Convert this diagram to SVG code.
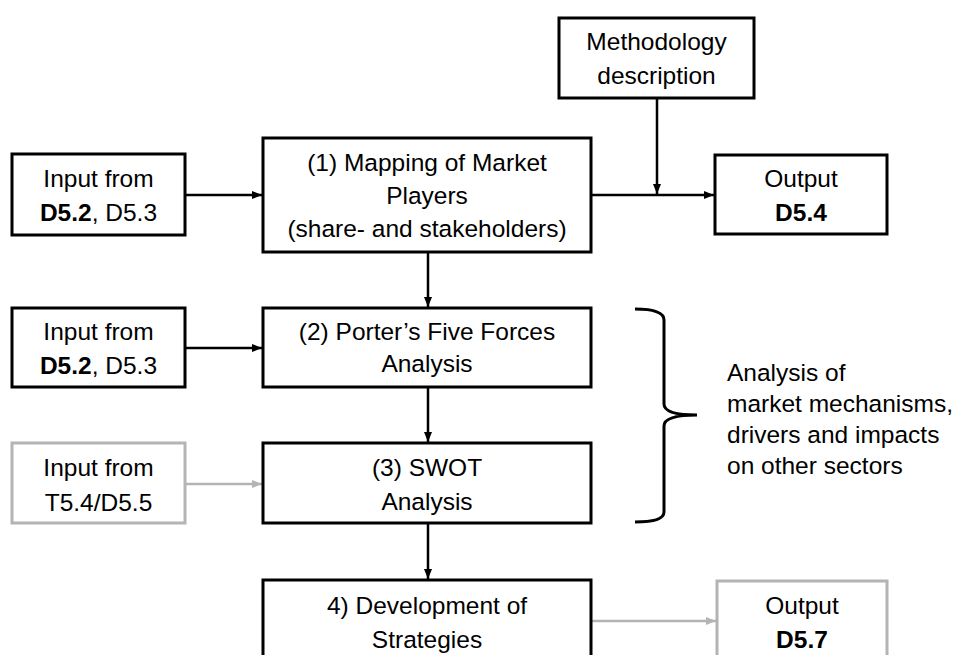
<svg xmlns="http://www.w3.org/2000/svg" width="964" height="655" viewBox="0 0 964 655">
  <defs>
    <marker id="arrow-black" viewBox="0 0 10 10" refX="10" refY="5" markerWidth="10" markerHeight="10" markerUnits="userSpaceOnUse" orient="auto">
      <path d="M0,1 L10,5 L0,9 Z" fill="#000"/>
    </marker>
    <marker id="arrow-grey" viewBox="0 0 10 10" refX="10" refY="5" markerWidth="10" markerHeight="10" markerUnits="userSpaceOnUse" orient="auto">
      <path d="M0,1 L10,5 L0,9 Z" fill="#b4b4b4"/>
    </marker>
    <style>
      .box { fill: #fff; stroke: #000; stroke-width: 3; }
      .box-grey { fill: #fff; stroke: #b4b4b4; stroke-width: 3; }
      .lbl { font-family: "Liberation Sans", Arial, sans-serif; font-size: 24.5px; fill: #000; text-anchor: middle; }
      .note { font-family: "Liberation Sans", Arial, sans-serif; font-size: 24.5px; fill: #000; }
      .b { font-weight: bold; }
      .edge { fill: none; stroke: #000; stroke-width: 2.5; marker-end: url(#arrow-black); }
      .edge-grey { fill: none; stroke: #b4b4b4; stroke-width: 2.5; marker-end: url(#arrow-grey); }
    </style>
  </defs>
  <rect width="964" height="655" fill="#fff"/>

  <!-- connectors -->
  <g id="connectors">
    <line class="edge" x1="185" y1="195" x2="262" y2="195"/>
    <line class="edge" x1="591" y1="195" x2="714" y2="195"/>
    <line class="edge" x1="657" y1="98" x2="657" y2="194"/>
    <line class="edge" x1="428" y1="252" x2="428" y2="307"/>
    <line class="edge" x1="185" y1="348" x2="262" y2="348"/>
    <line class="edge" x1="428" y1="387" x2="428" y2="442"/>
    <line class="edge-grey" x1="185" y1="484" x2="262" y2="484"/>
    <line class="edge" x1="428" y1="523" x2="428" y2="579"/>
    <line class="edge-grey" x1="591" y1="621" x2="716" y2="621"/>
  </g>

  <g id="input-1">
    <rect class="box" x="12" y="154" width="173" height="81"/>
    <text class="lbl" x="98.5" y="187">Input from</text>
    <text class="lbl" x="98.5" y="221"><tspan class="b">D5.2</tspan>, D5.3</text>
  </g>

  <g id="mapping">
    <rect class="box" x="263" y="138" width="328" height="114"/>
    <text class="lbl" x="427" y="171">(1) Mapping of Market</text>
    <text class="lbl" x="427" y="204">Players</text>
    <text class="lbl" x="427" y="237">(share- and stakeholders)</text>
  </g>

  <g id="methodology">
    <rect class="box" x="559" y="18" width="195" height="80"/>
    <text class="lbl" x="656.5" y="50">Methodology</text>
    <text class="lbl" x="656.5" y="84">description</text>
  </g>

  <g id="output-d54">
    <rect class="box" x="715" y="155" width="172" height="79"/>
    <text class="lbl" x="801" y="187">Output</text>
    <text class="lbl b" x="801" y="221">D5.4</text>
  </g>

  <g id="input-2">
    <rect class="box" x="12" y="308" width="173" height="79"/>
    <text class="lbl" x="98.5" y="340">Input from</text>
    <text class="lbl" x="98.5" y="374"><tspan class="b">D5.2</tspan>, D5.3</text>
  </g>

  <g id="porter">
    <rect class="box" x="263" y="308" width="328" height="79"/>
    <text class="lbl" x="427" y="340">(2) Porter’s Five Forces</text>
    <text class="lbl" x="427" y="372">Analysis</text>
  </g>

  <g id="input-3">
    <rect class="box-grey" x="12" y="443" width="173" height="80"/>
    <text class="lbl" x="98.5" y="476">Input from</text>
    <text class="lbl" x="98.5" y="511">T5.4/D5.5</text>
  </g>

  <g id="swot">
    <rect class="box" x="263" y="443" width="328" height="80"/>
    <text class="lbl" x="427" y="476">(3) SWOT</text>
    <text class="lbl" x="427" y="510">Analysis</text>
  </g>

  <g id="strategies">
    <rect class="box" x="263" y="580" width="328" height="100"/>
    <text class="lbl" x="427" y="614">4) Development of</text>
    <text class="lbl" x="427" y="648">Strategies</text>
  </g>

  <g id="output-d57">
    <rect class="box-grey" x="717" y="581" width="170" height="100"/>
    <text class="lbl" x="802" y="614">Output</text>
    <text class="lbl b" x="802" y="648">D5.7</text>
  </g>

  <!-- brace grouping steps 2 and 3 -->
  <g id="analysis-brace">
    <path d="M635,309 Q664,309 664,320 L664,404 Q664,415 697,415 Q664,415 664,426 L664,512 Q664,522 635,522" fill="none" stroke="#000" stroke-width="3"/>
    <text class="note" x="727" y="381">Analysis of</text>
    <text class="note" x="727" y="412">market mechanisms,</text>
    <text class="note" x="727" y="443">drivers and impacts</text>
    <text class="note" x="727" y="474">on other sectors</text>
  </g>
</svg>
